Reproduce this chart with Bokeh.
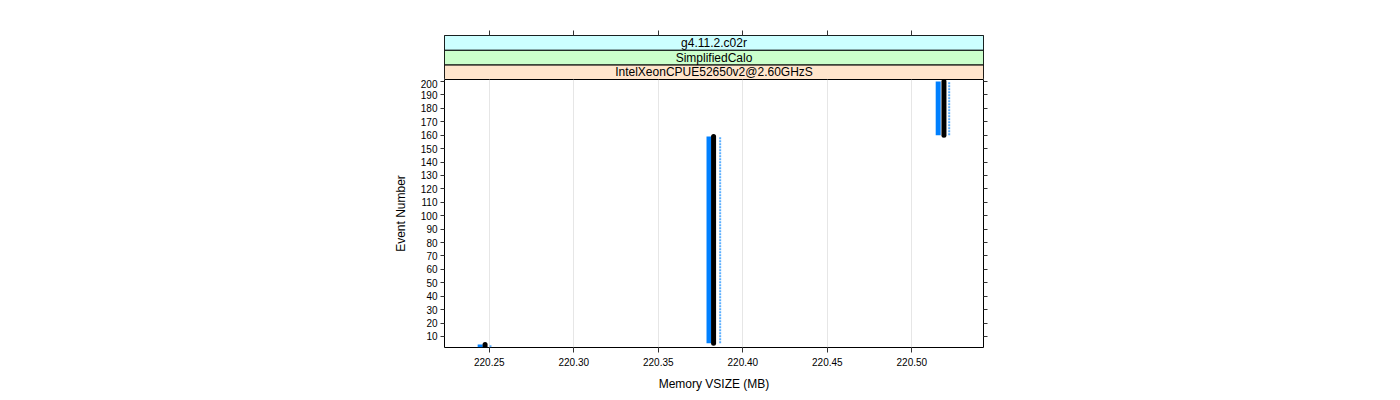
from bokeh.plotting import figure
from bokeh.layouts import column
from bokeh.models import Range1d, FixedTicker, LinearAxis, Grid
from bokeh.core.properties import value
from bokeh.embed import file_html
from bokeh.resources import INLINE

# ---- data ----
event_start = [2, 5, 160]
event_end = [4, 159, 200]
vsize_black = [220.2475, 220.3827, 220.5190]
vsize_blue = [220.2446, 220.3800, 220.5156]
vsize_light = [220.2507, 220.3866, 220.5221]

x_ticks = [220.25, 220.30, 220.35, 220.40, 220.45, 220.50]
x_tick_labels = ["220.25", "220.30", "220.35", "220.40", "220.45", "220.50"]
y_ticks = list(range(10, 201, 10))

strip_labels = ["IntelXeonCPUE52650v2@2.60GHzS", "SimplifiedCalo", "g4.11.2.c02r"]
strip_colors = ["#ffe5cc", "#ccffcc", "#ccffff"]
strip_levels = [0, 1, 2]

x_title = "Memory VSIZE (MB)"
y_title = "Event Number"

# ---- layout ----
FONT = "Liberation Sans"
x_range = Range1d(220.2235, 220.5424)
y_lo, y_hi = 1.8, 201.5


def style_axis(ax, labels=True):
    ax.axis_line_color = None
    ax.major_tick_line_color = "#333333"
    ax.minor_tick_line_color = None
    ax.major_tick_out = 5
    ax.major_tick_in = 0
    ax.major_label_text_font = FONT
    ax.major_label_text_font_size = "10px"
    ax.major_label_text_color = "black"
    ax.axis_label_text_font = FONT
    ax.axis_label_text_font_size = "12px"
    ax.axis_label_text_font_style = "normal"
    ax.axis_label_text_color = "black"
    if not labels:
        ax.major_label_text_font_size = "0px"
        ax.major_label_text_color = None


# ---- strip figure ----
s = figure(width=1400, height=79, output_backend="svg", toolbar_location=None,
           x_range=x_range, y_range=Range1d(0, 3),
           min_border_left=444, min_border_right=417, min_border_top=35,
           min_border_bottom=0, x_axis_location=None, y_axis_location=None)
s.outline_line_color = "black"
s.xgrid.visible = False
s.ygrid.visible = False
xt = LinearAxis(ticker=FixedTicker(ticks=x_ticks))
style_axis(xt, labels=False)
s.add_layout(xt, "above")
s.quad(left=x_range.start, right=x_range.end,
       bottom=strip_levels, top=[v + 1 for v in strip_levels],
       fill_color=strip_colors, line_color="black", line_width=1)
s.text(x=[(x_range.start + x_range.end) / 2] * 3, y=[v + 0.5 for v in strip_levels],
       text=strip_labels, text_font=value(FONT), text_font_size="12px",
       text_align="center", text_baseline="middle", text_color="black")

# ---- panel figure ----
p = figure(width=1400, height=321, output_backend="svg", toolbar_location=None,
           x_range=x_range, y_range=Range1d(y_lo, y_hi),
           min_border_left=444, min_border_right=417, min_border_top=0,
           min_border_bottom=53, x_axis_location=None, y_axis_location=None)
p.outline_line_color = "black"
p.xgrid.visible = False
p.ygrid.visible = False
p.add_layout(Grid(dimension=0, ticker=FixedTicker(ticks=x_ticks),
                  grid_line_color="#e6e6e6", grid_line_width=1))

xb = LinearAxis(ticker=FixedTicker(ticks=x_ticks), axis_label=x_title)
xb.major_label_overrides = {t: l for t, l in zip(x_ticks, x_tick_labels)}
style_axis(xb)
xb.major_label_standoff = 5
xb.axis_label_standoff = 8
p.add_layout(xb, "below")

yl = LinearAxis(ticker=FixedTicker(ticks=y_ticks), axis_label=y_title)
style_axis(yl)
yl.major_tick_out = 4
yl.major_label_standoff = 3
yl.axis_label_standoff = 10
yl.major_label_orientation = "horizontal"
p.add_layout(yl, "left")

yr = LinearAxis(ticker=FixedTicker(ticks=y_ticks))
style_axis(yr, labels=False)
yr.major_tick_out = 4
p.add_layout(yr, "right")

p.segment(x0=vsize_blue, y0=event_start, x1=vsize_blue, y1=event_end,
          line_color="#0080ff", line_width=5, line_cap="butt")
p.segment(x0=vsize_light, y0=event_start, x1=vsize_light, y1=event_end,
          line_color="#5aaeff", line_width=2, line_dash="2 1", line_cap="butt")
p.segment(x0=vsize_black, y0=event_start, x1=vsize_black, y1=event_end,
          line_color="black", line_width=5, line_cap="round")

layout = column(s, p, spacing=0)
open("out.html", "w").write(file_html(layout, INLINE))
